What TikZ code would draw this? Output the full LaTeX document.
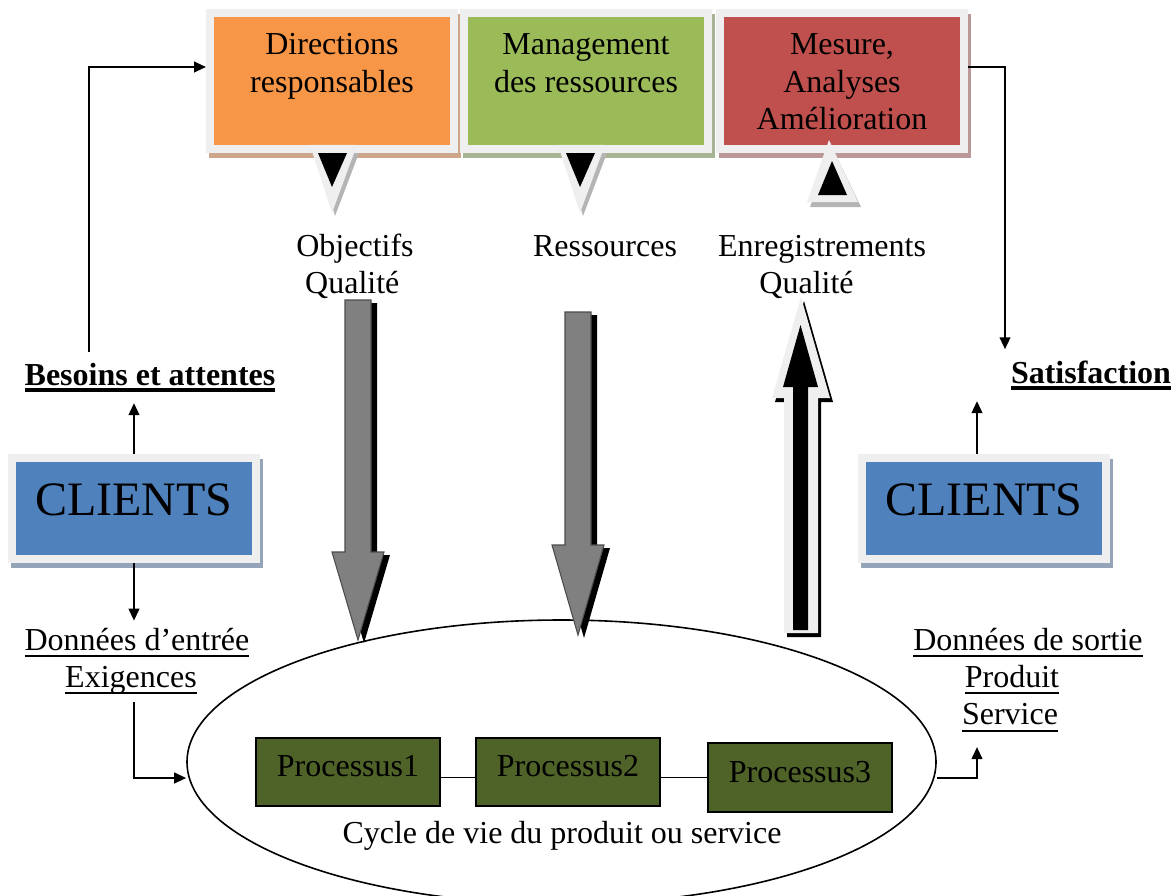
\documentclass[tikz,border=0pt]{standalone}
\usepackage{fontspec}
\setmainfont{Liberation Serif}
\usetikzlibrary{arrows.meta,shapes.geometric,calc}

\definecolor{frameGray}{HTML}{EFEFEF}
\definecolor{cOrange}{HTML}{F79646}
\definecolor{sOrange}{HTML}{CDA58B}
\definecolor{cGreen}{HTML}{9BBB59}
\definecolor{sGreen}{HTML}{A8B394}
\definecolor{cRed}{HTML}{C0504D}
\definecolor{sRed}{HTML}{BC9797}
\definecolor{cBlue}{HTML}{4F81BD}
\definecolor{sBlue}{HTML}{95A4B9}
\definecolor{cOlive}{HTML}{4F6228}
\definecolor{arrowGray}{HTML}{808080}
\definecolor{tailShade}{HTML}{B4B4B4}

% underline drawn as a rule under the text box
\newcommand\myul[2][0.75pt]{\setbox0=\hbox{#2}\leavevmode\rlap{\rule[-2.6pt]{\wd0}{#1}}\box0}
% centred lines whose baseline is the first line
\newcommand\mlines[1]{\begin{tabular}[t]{@{}c@{}}#1\end{tabular}}
% fat downward arrow: centre x, top, head top, tip
\newcommand\fatdown[4]{(#1-13,#2) -- (#1+13,#2) -- (#1+13,#3) -- (#1+26,#3) -- (#1,#4) -- (#1-26,#3) -- (#1-13,#3) -- cycle}

\tikzset{
  txt/.style={font=\fontsize{12}{14}\selectfont, inner sep=0pt},
  framed/.style={draw=frameGray, line width=3pt, inner sep=0pt},
  topbox/.style={framed, minimum width=91.5pt, minimum height=51pt},
  clientbox/.style={framed, fill=cBlue, minimum width=91.5pt, minimum height=37.875pt,
    font=\fontsize{18}{22}\selectfont, text depth=6.4pt},
  proc/.style={draw=black, line width=0.5pt, fill=cOlive, minimum width=69pt,
    font=\fontsize{12}{14}\selectfont, text depth=4.3pt, inner sep=0pt},
  conn/.style={draw, line width=0.75pt, -{Triangle[length=4.5pt,width=4pt]}},
  ulabel/.style={txt, inner sep=4pt},
}

\begin{document}
\begin{tikzpicture}[x=0.375pt, y=-0.375pt]
\useasboundingbox (0,0) rectangle (1176,895);
\clip (0,0) rectangle (1176,895);

% shadows of the framed boxes
\fill[sOrange] (209,14) rectangle (461,158);
\fill[sGreen] (463,14) rectangle (715,158);
\fill[sRed] (719,14) rectangle (971,158);
\fill[sBlue] (11,459) rectangle (263,568);
\fill[sBlue] (861,459) rectangle (1113,568);

% top boxes
\node[topbox, fill=cOrange] (dir) at (332,81) {};
\node[topbox, fill=cGreen] (man) at (586,81) {};
\node[topbox, fill=cRed] (mes) at (842,81) {};

% callout tails
\fill[tailShade] (317,153) -- (359,153) -- (335,216) -- cycle;
\fill[frameGray] (310,145) -- (357,145) -- (332,213) -- cycle;
\fill[black] (318,153) -- (347,153) -- (332,187) -- cycle;

\fill[tailShade] (565,153) -- (607,153) -- (583,216) -- cycle;
\fill[frameGray] (558,145) -- (605,145) -- (580,213) -- cycle;
\fill[black] (566,153) -- (595,153) -- (580,187) -- cycle;

\fill[tailShade] (810,207) -- (861,207) -- (832,147) -- cycle;
\fill[frameGray] (807,202) -- (858,202) -- (829,140) -- cycle;
\fill[black] (818,195) -- (847,195) -- (832,161) -- cycle;

% texts of the top boxes
\node[txt, anchor=base] at (332,55) {\mlines{Directions\\responsables}};
\node[txt, anchor=base] at (586,55) {\mlines{Management\\des ressources}};
\node[txt, anchor=base] at (842,55) {\mlines{Mesure,\\Analyses\\Amélioration}};

% labels between boxes and process cycle
\node[txt, anchor=base] (obj) at (355,256) {\mlines{Objectifs\\Qualité\hspace*{2pt}}};
\node[txt, anchor=base] (res) at (605,256) {Ressources};
\node[txt, anchor=base] (enr) at (822,256) {\mlines{Enregistrements\\Qualité\hspace*{11.6pt}}};

% process cycle
\node[draw, ellipse, line width=0.6pt, minimum width=280.875pt, minimum height=106.5pt, inner sep=0pt] (cyc) at (561.5,762) {};
\node[txt, anchor=base] (cyct) at (562,843) {Cycle de vie du produit ou service};

\node[proc, minimum height=25.5pt] (p1) at (348,772) {Processus1};
\node[proc, minimum height=25.5pt] (p2) at (568,772) {Processus2};
\node[proc, minimum height=25.9pt] (p3) at (800,777.5) {Processus3};
\draw[line width=0.55pt] (p1.east |- p3.west) -- (p2.west |- p3.west);
\draw[line width=0.55pt] (p2.east |- p3.west) -- (p3.west);

% fat grey arrows down
\fill[black, shift={(6,3)}] \fatdown{358}{300}{552}{640};
\filldraw[fill=arrowGray, draw=black!70, line width=0.4pt] \fatdown{358}{300}{552}{640};
\fill[black, shift={(6,3)}] \fatdown{578}{312}{545}{635};
\filldraw[fill=arrowGray, draw=black!70, line width=0.4pt] \fatdown{578}{312}{545}{635};

% framed black arrow up
\fill[black, shift={(3,4)}] (784,633) -- (818,633) -- (818,398) -- (830,398) -- (801,297) -- (772,398) -- (784,398) -- cycle;
\fill[frameGray] (784,633) -- (818,633) -- (818,398) -- (830,398) -- (801,297) -- (772,398) -- (784,398) -- cycle;
\fill[black] (793,630) -- (808,630) -- (808,387) -- (818,387) -- (800.5,325) -- (783,387) -- (793,387) -- cycle;

% clients
\node[clientbox] (cl1) at (134,508.5) {CLIENTS};
\node[clientbox] (cl2) at (984,508.5) {CLIENTS};

% side labels
\node[ulabel, anchor=base, font=\fontsize{12}{14}\selectfont\bfseries] (bes) at (150,385) {\myul[1.3pt]{Besoins et attentes}};
\node[ulabel, anchor=base, font=\fontsize{12}{14}\selectfont\bfseries] (satis) at (1091,383) {\myul[1.3pt]{Satisfaction}};
\node[txt, inner sep=1pt, anchor=base] (entree) at (137,650) {\mlines{\myul{Données d’entrée}\\\myul{Exigences}\hspace*{4.5pt}}};
\node[txt, inner sep=1pt, anchor=base] (sortie) at (1028,650) {\mlines{\myul{Données de sortie}\\\myul{Produit}\hspace*{12pt}\\\myul{Service}\hspace*{13.5pt}}};

% connectors
\coordinate (xB) at (89,0);
\coordinate (xR) at (1005,0);
\coordinate (xS) at (977,0);
\draw[conn] (bes.north -| xB) |- ($(dir.west)+(0,-14)$);
\draw[conn] ($(mes.east)+(0,-14)$) -| (satis.north -| xR);
\draw[conn] (cl1.north) -- (cl1.north |- bes.south);
\draw[conn] (cl1.south) -- (cl1.south |- entree.north);
\draw[conn] (entree.south -| cl1.south) |- ($(cyc.west)+(0,16)$);
\draw[conn] (cl2.north -| xS) -- (satis.south -| xS);
\draw[conn, shorten >=3pt] ($(cyc.east)+(0,16)$) -| (sortie.south -| xS);
\end{tikzpicture}
\end{document}
